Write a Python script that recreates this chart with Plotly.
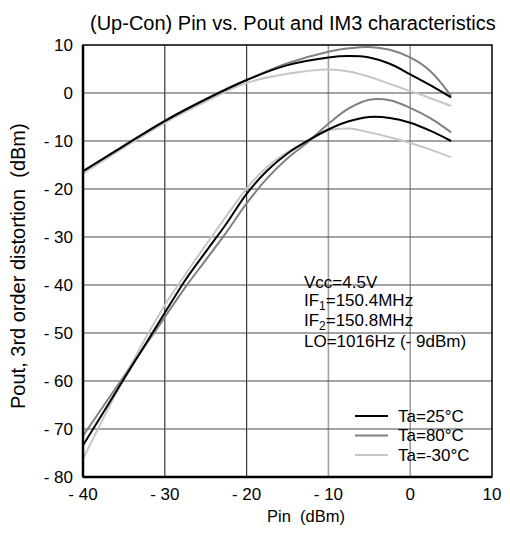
import plotly.graph_objects as go

# ---------------- data ----------------
pin_pout = [-40, -35, -30, -25, -20, -15, -10, -7.5, -5, -2.5, 0, 2.5, 5]
pout_25 = [-16.3, -11.0, -5.8, -1.3, 2.7, 5.8, 7.4, 7.7, 7.4, 6.1, 3.9, 1.6, -0.9]
pout_80 = [-16.3, -11.0, -5.9, -1.4, 2.7, 6.2, 8.6, 9.3, 9.6, 9.0, 7.4, 4.5, -0.6]
pout_m30 = [-16.8, -11.4, -6.2, -1.8, 2.1, 4.0, 4.9, 4.5, 3.4, 1.9, 0.4, -1.1, -2.7]

pin_im3 = [-40, -37.5, -35, -32.5, -30, -27.5, -25, -22.5, -20, -17.5, -15,
           -12.5, -10, -7.5, -5, -2.5, 0, 2.5, 5]
im3_25 = [-73.4, -66.5, -59.6, -52.7, -45.8, -39.0, -33.1, -27.3, -21.0, -16.2,
          -12.6, -9.9, -7.6, -5.9, -5.0, -5.2, -6.2, -7.9, -10.0]
im3_80 = [-71.4, -65.2, -59.0, -52.9, -46.7, -40.5, -34.8, -29.1, -23.0, -17.8,
          -13.6, -10.2, -6.4, -3.2, -1.4, -1.5, -3.1, -5.3, -8.2]
im3_m30 = [-76.2, -67.7, -59.4, -51.5, -44.2, -37.8, -31.7, -25.7, -19.9, -15.4,
           -12.3, -10.0, -7.8, -7.4, -8.2, -9.2, -10.4, -11.8, -13.4]

series_names = ["Ta=25°C", "Ta=80°C", "Ta=-30°C"]
series_colors = ["#000000", "#808080", "#c6c6c6"]

x_ticks = [-40, -30, -20, -10, 0, 10]
x_labels = ["- 40", "- 30", "- 20", "- 10", "0", "10"]
y_ticks = [10, 0, -10, -20, -30, -40, -50, -60, -70, -80]
y_labels = ["10", "0", "- 10", "- 20", "- 30", "- 40", "- 50", "- 60", "- 70", "- 80"]

notes = ["Vcc=4.5V", "IF<sub>1</sub>=150.4MHz", "IF<sub>2</sub>=150.8MHz", "LO=1016Hz (- 9dBm)"]

FONT = "Liberation Sans, Arial, sans-serif"

# The page body has an 8px margin; size the figure so it fills the 510x533 window.
OFF = 8
W, H = 510 - OFF, 533 - OFF
L, R, T, B = 83 - OFF, 18, 45 - OFF, 56
PW, PH = W - L - R, H - T - B


def px(xp):
    """page x pixel -> paper fraction"""
    return (xp - OFF - L) / PW


def py(yp):
    """page y pixel -> paper fraction"""
    return (H - B - (yp - OFF)) / PH


fig = go.Figure()
pouts = [pout_25, pout_80, pout_m30]
im3s = [im3_25, im3_80, im3_m30]
for i in [2, 1, 0]:
    for xs, ys in [(pin_pout, pouts[i]), (pin_im3, im3s[i])]:
        fig.add_trace(go.Scatter(x=xs, y=ys, mode="lines", name=series_names[i],
                                 line=dict(color=series_colors[i], width=2, shape="spline", smoothing=1.0),
                                 showlegend=False, hoverinfo="skip"))

shapes = []
# grid lines
for v in x_ticks[1:-1]:
    col = "#3a3a3a" if v < -10 else "#a0a0a0"
    wd = 1.2 if v < -10 else 1.6
    shapes.append(dict(type="line", xref="x", yref="y", x0=v, x1=v, y0=-80, y1=10,
                       line=dict(color=col, width=wd), layer="below"))
for v in y_ticks[1:-1]:
    shapes.append(dict(type="line", xref="x", yref="y", x0=-40, x1=10, y0=v, y1=v,
                       line=dict(color="#4a4a4a", width=1.2), layer="below"))
# white boxes behind the note and legend
shapes.append(dict(type="rect", xref="paper", yref="paper", x0=px(297), x1=px(478), y0=py(353), y1=py(270),
                   fillcolor="white", line=dict(width=0), layer="below"))
shapes.append(dict(type="rect", xref="paper", yref="paper", x0=px(340), x1=px(490), y0=py(470), y1=py(393),
                   fillcolor="white", line=dict(width=0), layer="below"))
# frame
shapes.append(dict(type="rect", xref="paper", yref="paper", x0=0, x1=1, y0=0, y1=1,
                   line=dict(color="black", width=1.5), layer="above"))
shapes.append(dict(type="line", xref="paper", yref="paper", x0=0, x1=0, y0=0, y1=1,
                   line=dict(color="black", width=2.5), layer="above"))
shapes.append(dict(type="line", xref="paper", yref="paper", x0=0, x1=1, y0=0, y1=0,
                   line=dict(color="black", width=2.5), layer="above"))

annotations = []
# condition notes
for k, t in enumerate(notes):
    annotations.append(dict(text=t, xref="paper", yref="paper", x=px(302), y=py(282 + k * 19.8),
                            xanchor="left", yanchor="middle", showarrow=False,
                            font=dict(family=FONT, size=17, color="black")))
# legend (manual, to match the tight row spacing)
for k in range(3):
    yy = py(416 + k * 19.5)
    shapes.append(dict(type="line", xref="paper", yref="paper", x0=px(355), x1=px(388), y0=yy, y1=yy,
                       line=dict(color=series_colors[k], width=2), layer="above"))
    annotations.append(dict(text=series_names[k], xref="paper", yref="paper", x=px(396), y=yy,
                            xanchor="left", yanchor="middle", showarrow=False,
                            font=dict(family=FONT, size=17, color="black")))
# axis titles
annotations.append(dict(text="Pout, 3rd order distortion\u00a0\u00a0(dBm)", xref="paper", yref="paper",
                        x=px(18), y=py(266), xanchor="center", yanchor="middle", textangle=-90,
                        showarrow=False, font=dict(family=FONT, size=20, color="black")))
annotations.append(dict(text="Pin\u00a0\u00a0(dBm)", xref="paper", yref="paper",
                        x=px(306), y=py(516), xanchor="center", yanchor="middle",
                        showarrow=False, font=dict(family=FONT, size=16.5, color="black")))
# title
annotations.append(dict(text="(Up-Con) Pin vs. Pout and IM3 characteristics", xref="paper", yref="paper",
                        x=px(293), y=py(23), xanchor="center", yanchor="middle",
                        showarrow=False, font=dict(family=FONT, size=20, color="black")))

fig.update_layout(
    width=W, height=H,
    margin=dict(l=L, r=R, t=T, b=B),
    paper_bgcolor="white", plot_bgcolor="white",
    font=dict(family=FONT, size=17, color="black"),
    shapes=shapes,
    annotations=annotations,
    showlegend=False,
    xaxis=dict(range=[-40, 10], tickmode="array", tickvals=x_ticks, ticktext=x_labels,
               showgrid=False, zeroline=False, showline=False, ticks="", automargin=False,
               ticklabelstandoff=5, ticklabeloverflow="allow", tickfont=dict(family=FONT, size=17)),
    yaxis=dict(range=[-80, 10], tickmode="array", tickvals=y_ticks, ticktext=y_labels,
               showgrid=False, zeroline=False, showline=False, ticks="", automargin=False,
               ticklabelstandoff=9, ticklabeloverflow="allow", tickfont=dict(family=FONT, size=17)),
)

fig.write_html("out.html")
